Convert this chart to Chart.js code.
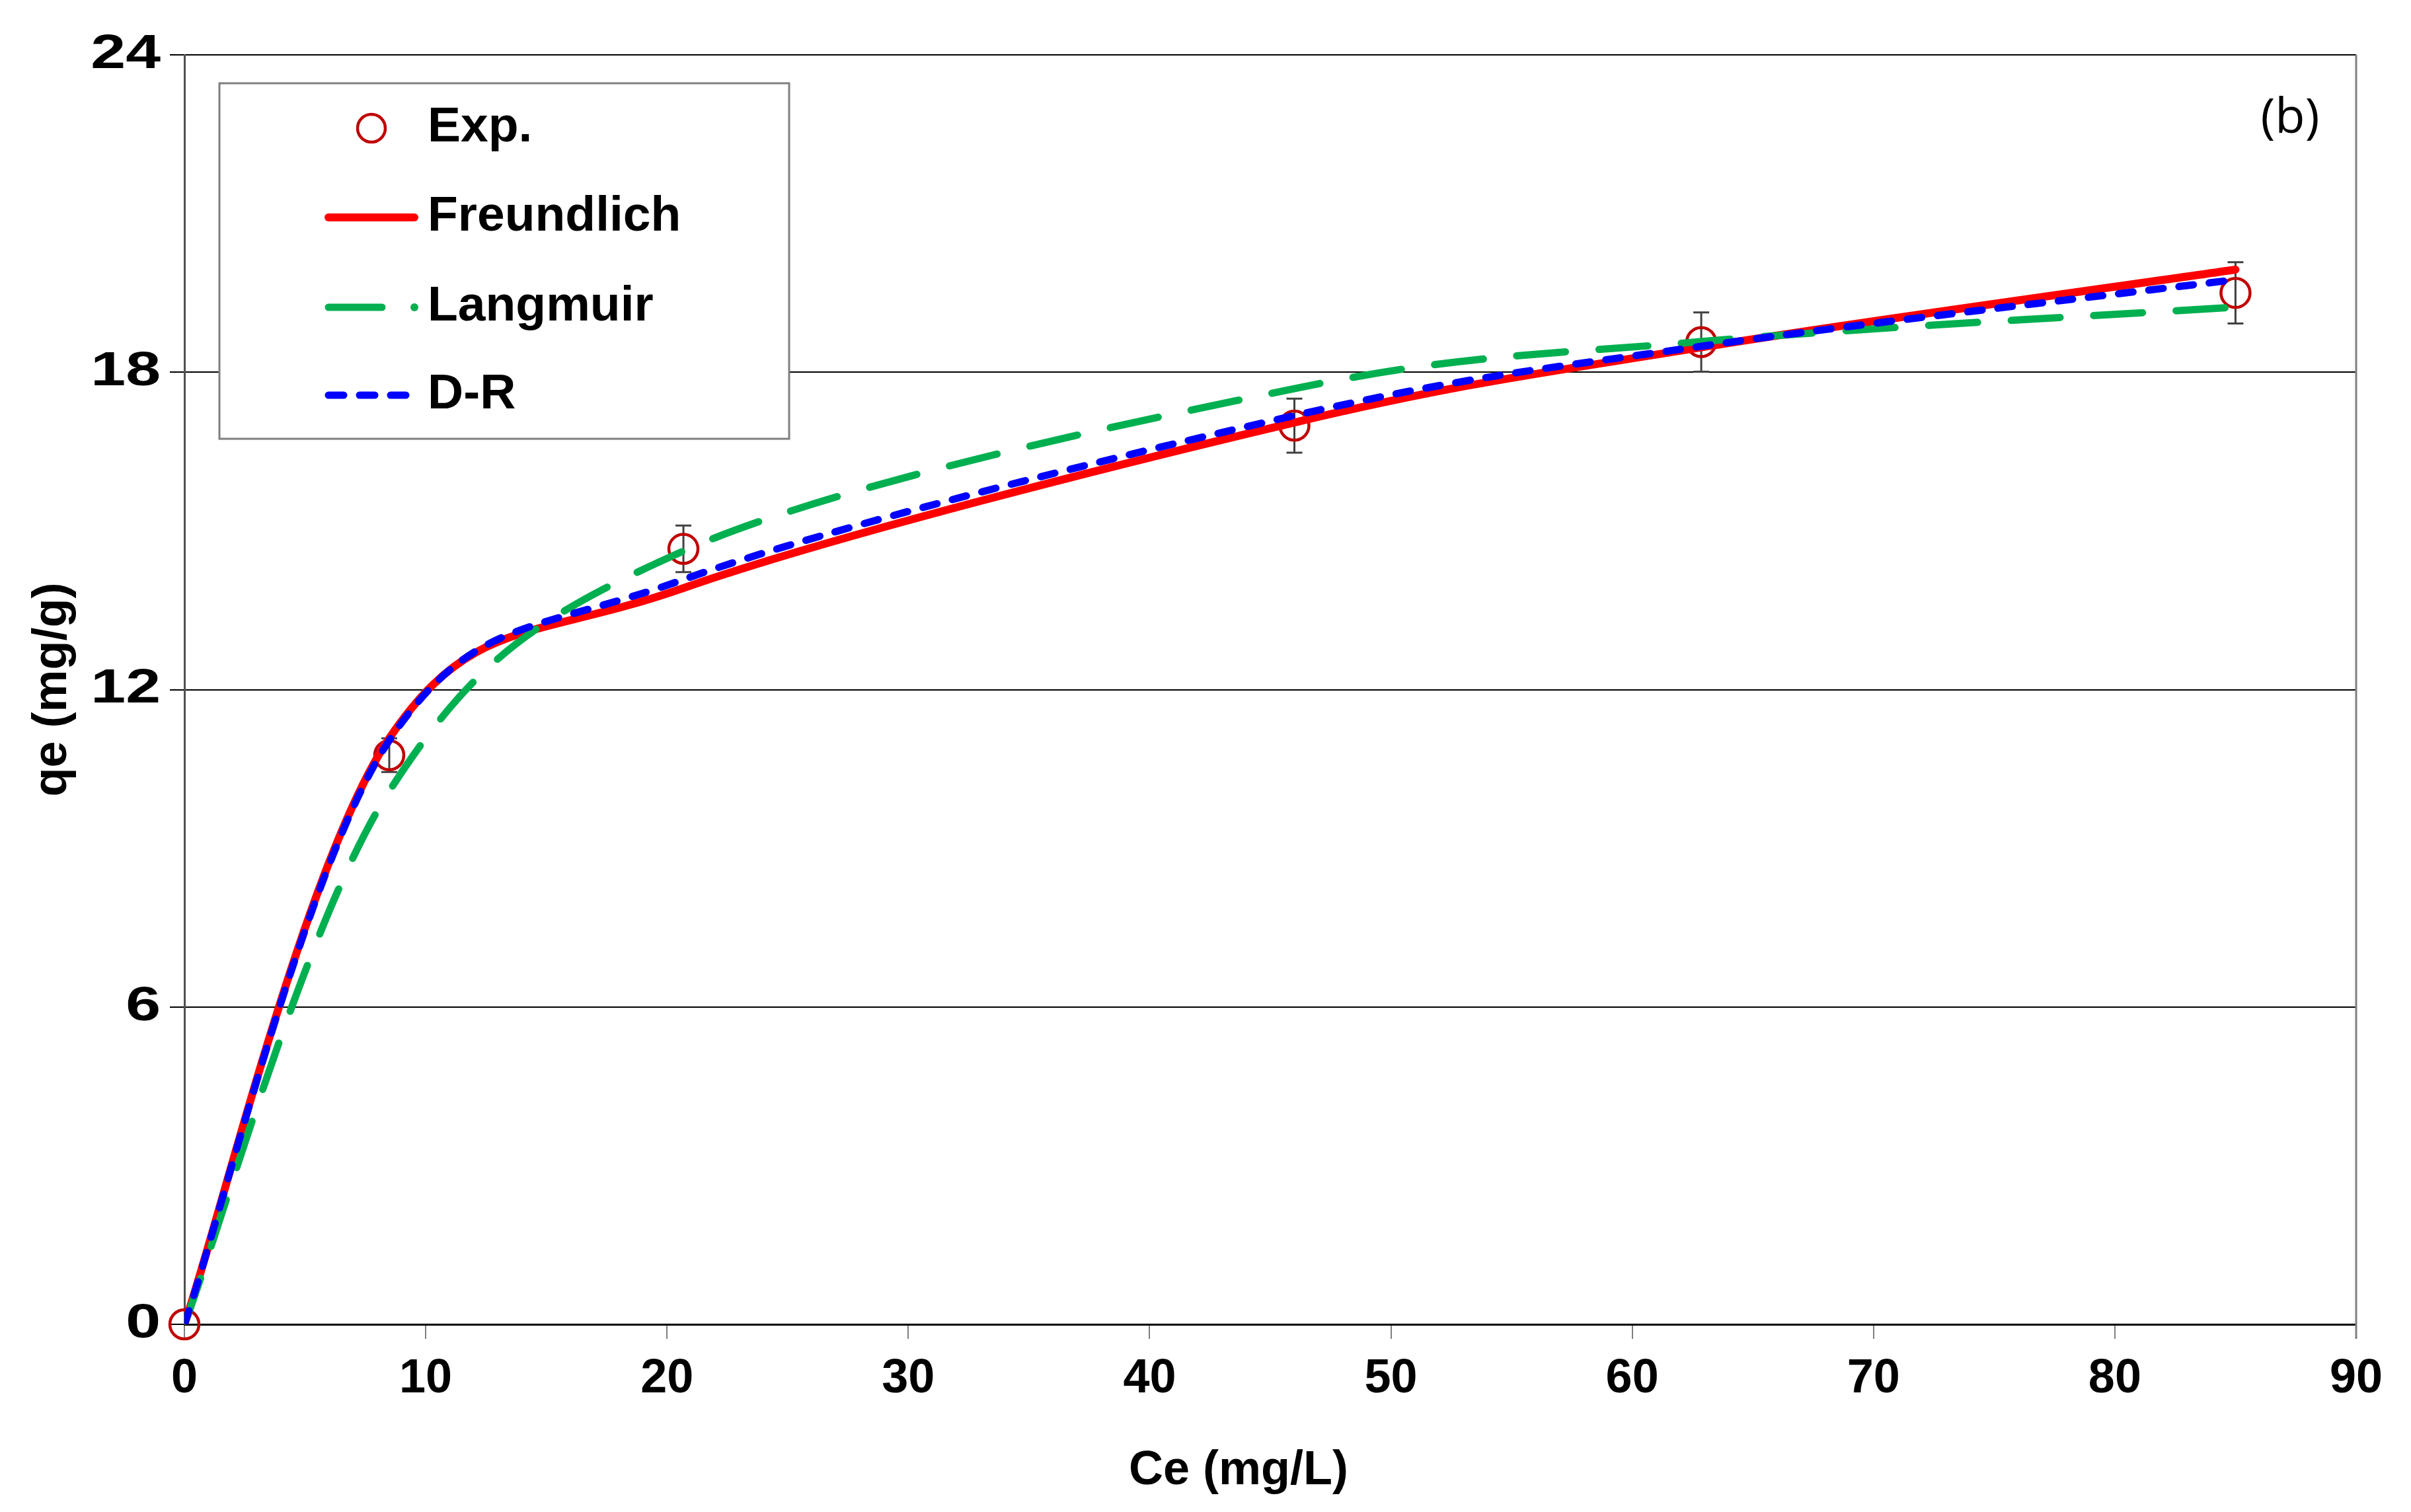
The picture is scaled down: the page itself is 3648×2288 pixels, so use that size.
<!DOCTYPE html>
<html>
<head>
<meta charset="utf-8">
<script src="https://cdn.jsdelivr.net/npm/chart.js@4.4.0/dist/chart.umd.min.js"></script>
<style>
  html, body { margin: 0; padding: 0; background: #fff; }
  canvas { display: block; }
</style>
</head>
<body>
<canvas id="myChart" width="3648" height="2288" style="width:3648px;height:2288px"></canvas>
<script>
// Ce (mg/L) of the experimental points, shared by the fitted curves
var ceValues = [0, 8.49, 20.68, 46.0, 62.86, 85.0];
var qeExp = [0, 10.76, 14.66, 16.99, 18.57, 19.50];
var qeErr = [0, 0.32, 0.44, 0.51, 0.56, 0.58];
var qeFreundlich = [0, 11.08, 13.92, 17.05, 18.47, 19.94];
var qeLangmuir = [0, 10.08, 14.62, 17.69, 18.58, 19.23];
var qeDR = [0, 11.04, 14.08, 17.18, 18.49, 19.75];
var seriesNames = ['Exp.', 'Freundlich', 'Langmuir', 'D-R'];
var xTicks = [0, 10, 20, 30, 40, 50, 60, 70, 80, 90];
var yTicks = [0, 6, 12, 18, 24];

var FONT = '"Liberation Sans", Arial, sans-serif';

function toPoints(ys) {
    return ceValues.map(function (x, i) { return { x: x, y: ys[i] }; });
}

// white page
var whiteBg = {
    id: 'whiteBg',
    beforeDraw: function (chart) {
        var ctx = chart.ctx;
        ctx.save();
        ctx.fillStyle = '#fff';
        ctx.fillRect(0, 0, chart.width, chart.height);
        ctx.restore();
    }
};

// Excel style smoothing: control points at +/- (next - prev) / 6
var excelSmooth = {
    id: 'excelSmooth',
    beforeDatasetDraw: function (chart, args) {
        var meta = args.meta;
        if (!meta.dataset || !chart.data.datasets[args.index].showLine) return;
        var pts = meta.data;
        for (var i = 0; i < pts.length; i++) {
            var prev = pts[Math.max(i - 1, 0)];
            var next = pts[Math.min(i + 1, pts.length - 1)];
            var dx = (next.x - prev.x) / 6, dy = (next.y - prev.y) / 6;
            pts[i].cp1x = pts[i].x - dx;
            pts[i].cp1y = pts[i].y - dy;
            pts[i].cp2x = pts[i].x + dx;
            pts[i].cp2y = pts[i].y + dy;
        }
        meta.dataset._pointsUpdated = true;
    }
};

var errorBars = {
    id: 'errorBars',
    beforeDatasetsDraw: function (chart) {
        var ctx = chart.ctx, xs = chart.scales.x, ys = chart.scales.y;
        ctx.save();
        ctx.strokeStyle = '#404040';
        ctx.lineWidth = 3;
        for (var i = 0; i < ceValues.length; i++) {
            if (!qeErr[i]) continue;
            var px = xs.getPixelForValue(ceValues[i]);
            var top = ys.getPixelForValue(qeExp[i] + qeErr[i]);
            var bot = ys.getPixelForValue(qeExp[i] - qeErr[i]);
            ctx.beginPath();
            ctx.moveTo(px, top); ctx.lineTo(px, bot);
            ctx.moveTo(px - 12, top); ctx.lineTo(px + 12, top);
            ctx.moveTo(px - 12, bot); ctx.lineTo(px + 12, bot);
            ctx.stroke();
        }
        ctx.restore();
    }
};

var frameAndLegend = {
    id: 'frameAndLegend',
    afterDraw: function (chart) {
        var ctx = chart.ctx, area = chart.chartArea;
        var ds = chart.data.datasets;
        var ys = chart.scales.y;
        ctx.save();
        // right border of the plot area
        ctx.strokeStyle = '#7f7f7f';
        ctx.lineWidth = 3;
        ctx.beginPath();
        ctx.moveTo(area.right, area.top);
        ctx.lineTo(area.right, area.bottom + 22);
        ctx.stroke();

        // y tick labels (wide, as in the original)
        ctx.fillStyle = '#000';
        ctx.font = 'bold 72px ' + FONT;
        ctx.textAlign = 'right';
        ctx.textBaseline = 'middle';
        yTicks.forEach(function (v) {
            ctx.save();
            ctx.translate(243, ys.getPixelForValue(v));
            ctx.scale(1.32, 1);
            ctx.fillText(String(v), 0, 0);
            ctx.restore();
        });

        // x axis title
        ctx.textAlign = 'center';
        ctx.fillText('Ce (mg/L)', 1874, 2226);

        // legend box
        ctx.fillStyle = '#fff';
        ctx.fillRect(332, 126, 862, 538);
        ctx.strokeStyle = '#7f7f7f';
        ctx.strokeRect(332, 126, 862, 538);

        var rows = [194, 329, 465, 598];
        ctx.lineCap = 'round';
        // Exp. marker
        var exp = ds[3];
        ctx.strokeStyle = exp.borderColor;
        ctx.lineWidth = exp.borderWidth;
        ctx.beginPath();
        ctx.arc(562, rows[0], 21, 0, Math.PI * 2);
        ctx.stroke();
        // Freundlich
        ctx.strokeStyle = ds[2].borderColor;
        ctx.lineWidth = ds[2].borderWidth;
        ctx.beginPath();
        ctx.moveTo(497, rows[1]); ctx.lineTo(627, rows[1]);
        ctx.stroke();
        // Langmuir: long dash + dot
        ctx.strokeStyle = ds[1].borderColor;
        ctx.lineWidth = ds[1].borderWidth;
        ctx.beginPath();
        ctx.moveTo(497, rows[2]); ctx.lineTo(578, rows[2]);
        ctx.stroke();
        ctx.fillStyle = ds[1].borderColor;
        ctx.beginPath();
        ctx.arc(627, rows[2], 6, 0, Math.PI * 2);
        ctx.fill();
        // D-R
        ctx.strokeStyle = ds[0].borderColor;
        ctx.lineWidth = ds[0].borderWidth;
        ctx.setLineDash([23, 24]);
        ctx.beginPath();
        ctx.moveTo(497, rows[3]); ctx.lineTo(614, rows[3]);
        ctx.stroke();
        ctx.setLineDash([]);

        ctx.fillStyle = '#000';
        ctx.font = 'bold 75px ' + FONT;
        ctx.textBaseline = 'middle';
        ctx.textAlign = 'left';
        for (var i = 0; i < seriesNames.length; i++) {
            ctx.fillText(seriesNames[i], 647, rows[i] - 1);
        }

        // panel label
        ctx.font = '74px "Open Sans", sans-serif';
        ctx.textAlign = 'center';
        ctx.fillText('(b)', 3465, 180);
        ctx.restore();
    }
};

var ctx = document.getElementById('myChart').getContext('2d');
var myChart = new Chart(ctx, {
    type: 'scatter',
    data: {
        datasets: [{
            label: seriesNames[3],
            data: toPoints(qeDR),
            showLine: true,
            tension: 0.4,
            borderColor: '#0000FF',
            borderWidth: 11,
            borderDash: [22, 24],
            borderCapStyle: 'round',
            pointRadius: 0
        }, {
            label: seriesNames[2],
            data: toPoints(qeLangmuir),
            showLine: true,
            tension: 0.4,
            borderColor: '#00B050',
            borderWidth: 11,
            borderDash: [74, 51],
            borderCapStyle: 'round',
            pointRadius: 0
        }, {
            label: seriesNames[1],
            data: toPoints(qeFreundlich),
            showLine: true,
            tension: 0.4,
            borderColor: '#FF0000',
            borderWidth: 12,
            borderCapStyle: 'round',
            pointRadius: 0
        }, {
            label: seriesNames[0],
            data: toPoints(qeExp),
            showLine: false,
            clip: false,
            pointStyle: 'circle',
            pointRadius: 22,
            borderColor: '#C00000',
            borderWidth: 4.5,
            backgroundColor: 'rgba(0,0,0,0)'
        }]
    },
    options: {
        responsive: false,
        devicePixelRatio: 1,
        animation: false,
        layout: { padding: { left: 0, right: 83, top: 83, bottom: 0 } },
        plugins: {
            legend: { display: false },
            tooltip: { enabled: false }
        },
        scales: {
            x: {
                type: 'linear',
                min: xTicks[0],
                max: xTicks[xTicks.length - 1],
                afterBuildTicks: function (scale) {
                    scale.ticks = xTicks.map(function (v) { return { value: v }; });
                },
                afterFit: function (scale) { scale.height = 284; },
                ticks: {
                    color: '#000',
                    padding: 18,
                    font: { family: FONT, size: 72, weight: 'bold' }
                },
                grid: {
                    drawOnChartArea: false,
                    drawTicks: true,
                    tickLength: 22,
                    color: '#7f7f7f',
                    lineWidth: 2
                },
                border: { color: '#000', width: 3 }
            },
            y: {
                type: 'linear',
                min: yTicks[0],
                max: yTicks[yTicks.length - 1],
                afterBuildTicks: function (scale) {
                    scale.ticks = yTicks.map(function (v) { return { value: v }; });
                },
                afterFit: function (scale) { scale.width = 279; },
                ticks: { display: false },
                grid: {
                    color: '#000',
                    lineWidth: 2,
                    drawTicks: true,
                    tickLength: 22
                },
                border: { color: '#505050', width: 3 },
                title: {
                    display: true,
                    text: 'qe (mg/g)',
                    color: '#000',
                    padding: { top: 37, bottom: 0 },
                    font: { family: FONT, size: 72, weight: 'bold' }
                }
            }
        }
    },
    plugins: [whiteBg, excelSmooth, errorBars, frameAndLegend]
});
</script>
</body>
</html>
